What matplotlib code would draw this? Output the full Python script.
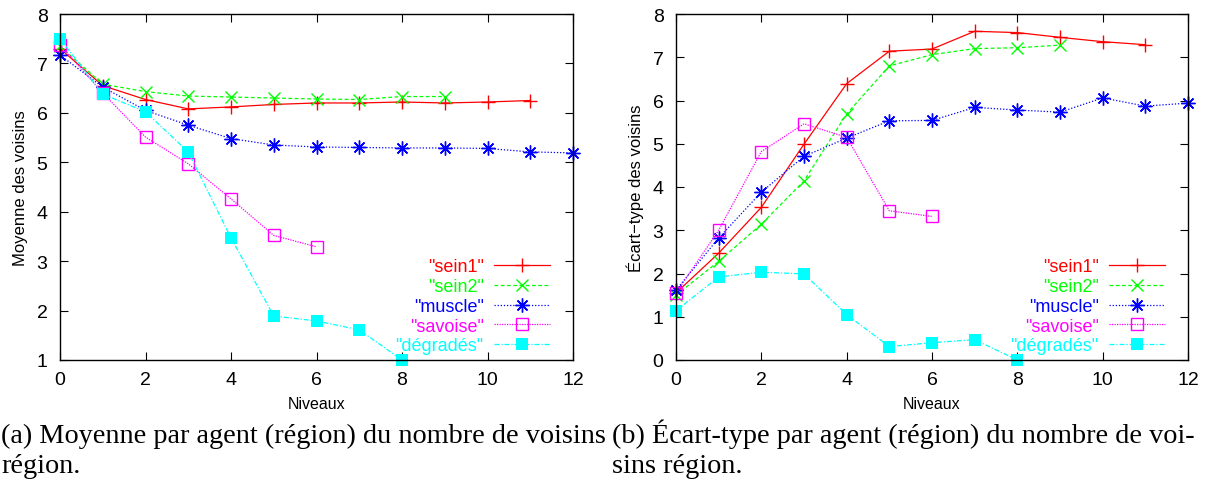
import matplotlib
matplotlib.use("Agg")
import matplotlib.pyplot as plt

plt.rcParams['font.family'] = ['Liberation Sans', 'DejaVu Sans']

# --- données ---
niveaux = list(range(13))
series = ['"sein1"', '"sein2"', '"muscle"', '"savoise"', '"dégradés"']

moy_sein1 = [7.30, 6.55, 6.27, 6.08, 6.12, 6.17, 6.20, 6.20, 6.22, 6.20, 6.22, 6.25]
moy_sein2 = [7.35, 6.58, 6.43, 6.34, 6.32, 6.30, 6.28, 6.27, 6.33, 6.33]
moy_muscle = [7.17, 6.52, 6.05, 5.75, 5.48, 5.35, 5.31, 5.30, 5.29, 5.29, 5.28, 5.21, 5.19]
moy_savoise = [7.38, 6.40, 5.51, 4.97, 4.26, 3.52, 3.29]
moy_degrades = [7.50, 6.38, 6.02, 5.21, 3.47, 1.89, 1.79, 1.61, 1.00]

et_sein1 = [1.55, 2.47, 3.53, 4.99, 6.39, 7.14, 7.19, 7.60, 7.57, 7.46, 7.36, 7.29]
et_sein2 = [1.50, 2.28, 3.14, 4.14, 5.69, 6.80, 7.06, 7.20, 7.22, 7.28]
et_muscle = [1.62, 2.82, 3.88, 4.71, 5.13, 5.53, 5.54, 5.84, 5.78, 5.73, 6.06, 5.87, 5.94]
et_savoise = [1.55, 3.00, 4.82, 5.46, 5.15, 3.45, 3.32]
et_degrades = [1.14, 1.92, 2.03, 1.99, 1.05, 0.31, 0.40, 0.47, 0.00]

# style gnuplot pour chaque série
styles = [
    dict(color='#ff0000', ls='-', marker='+', ms=10, mew=1.0),
    dict(color='#00ff00', ls=(0, (3, 2)), marker='x', ms=8, mew=1.0),
    dict(color='#0000ff', ls=(0, (1, 1.5)), marker=(8, 2, 0), ms=10, mew=1.0),
    dict(color='#ff00ff', ls=(0, (1, 1)), marker='s', ms=8.5, mew=1.0, mfc='none'),
    dict(color='#00ffff', ls=(0, (4, 1.5, 1, 1.5)), marker='s', ms=8, mew=0),
]

fig = plt.figure(figsize=(12.25, 4.81), dpi=100)
ax1 = fig.add_axes([60 / 1225, 1 - 361 / 481, 513 / 1225, 346 / 481])
ax2 = fig.add_axes([676 / 1225, 1 - 361 / 481, 512 / 1225, 346 / 481])


def trace(ax, donnees, ylim, ylabel):
    for nom, y, st in zip(series, donnees, styles):
        ax.plot(niveaux[:len(y)], y, label=nom, lw=0.9, clip_on=False, **st)
    ax.set_xlim(0, 12)
    ax.set_ylim(*ylim)
    ax.set_xticks(range(0, 13, 2))
    ax.set_yticks(range(ylim[0], ylim[1] + 1))
    ax.tick_params(direction='in', top=True, right=True, length=6, labelsize=14)
    ax.tick_params(axis='x', pad=8)
    ax.tick_params(axis='y', pad=9)
    ax.set_xlabel('Niveaux', fontsize=11.5, labelpad=6)
    ax.set_ylabel(ylabel, fontsize=12, labelpad=6)
    for s in ax.spines.values():
        s.set_linewidth(1.0)
    ax.legend(loc='lower right', markerfirst=False, labelcolor='linecolor', frameon=False,
              fontsize=13, numpoints=1, handlelength=3.1, handletextpad=0.55,
              labelspacing=0.15, borderaxespad=0.3, bbox_to_anchor=(0.979, -0.02))


trace(ax1, [moy_sein1, moy_sein2, moy_muscle, moy_savoise, moy_degrades], (1, 8), 'Moyenne des voisins')
trace(ax2, [et_sein1, et_sein2, et_muscle, et_savoise, et_degrades], (0, 8), 'Écart\u2212type des voisins')

cap = dict(family=['Liberation Serif', 'DejaVu Serif'], fontsize=20.3, va='baseline', ha='left')
fig.text(1 / 1225, 1 - 443 / 481, '(a) Moyenne par agent (région) du nombre de voisins', **cap)
fig.text(1 / 1225, 1 - 473 / 481, 'région.', **cap)
fig.text(612 / 1225, 1 - 443 / 481, '(b) Écart-type par agent (région) du nombre de voi-', **cap)
fig.text(612 / 1225, 1 - 473 / 481, 'sins région.', **cap)

fig.savefig('out.png', dpi=100)
